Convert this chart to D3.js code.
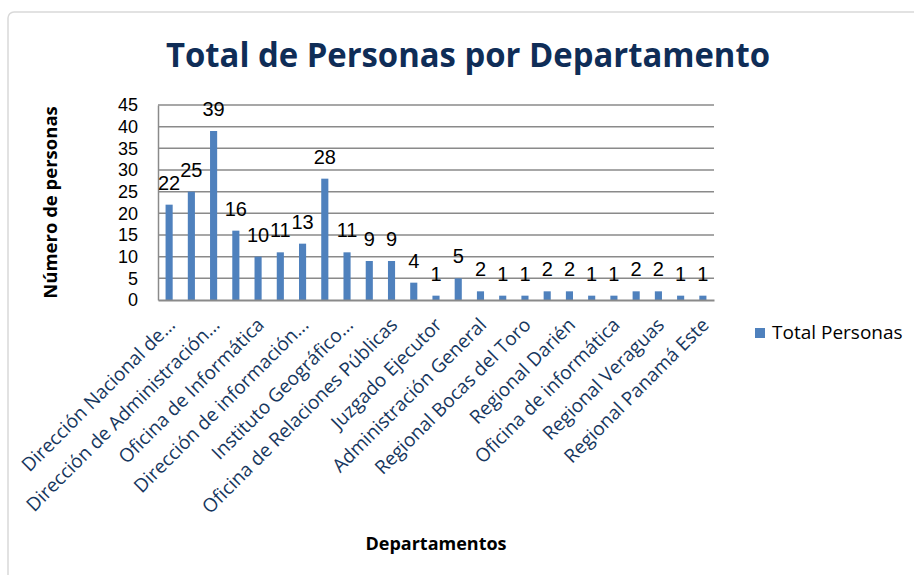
<!doctype html>
<html>
<head>
    <meta charset="utf-8">
    <title>Total de Personas por Departamento</title>
    <script src="https://d3js.org/d3.v7.min.js"></script>
    <style>
        body { margin: 0; background: #fff; }
        svg { display: block; }
    </style>
</head>
<body>
<div id="chart"></div>
<script>
    // categories (only every other one is shown as a tick label, like the original)
    var departamentos = [
        "Dirección Nacional de...", "Dirección de Finanzas",
        "Dirección de Administración...", "Dirección de Recursos Humanos",
        "Oficina de Informática", "Asesoría Legal",
        "Dirección de información...", "Secretaría General",
        "Instituto Geográfico...", "Auditoría Interna",
        "Oficina de Relaciones Públicas", "Dirección de Planificación",
        "Juzgado Ejecutor", "Regional Coclé",
        "Administración General", "Regional Chiriquí",
        "Regional Bocas del Toro", "Regional Colón",
        "Regional Darién", "Regional Herrera",
        "Oficina de informática", "Regional Los Santos",
        "Regional Veraguas", "Regional Panamá Oeste",
        "Regional Panamá Este"
    ];
    var totalPersonas = [22, 25, 39, 16, 10, 11, 13, 28, 11, 9, 9, 4, 1, 5, 2, 1, 1, 2, 2, 1, 1, 2, 2, 1, 1];
    var yTicks = [0, 5, 10, 15, 20, 25, 30, 35, 40, 45];

    var W = 914, H = 575;
    var margin = {top: 105, right: 200, bottom: 275, left: 158},
        width = W - margin.left - margin.right,
        height = H - margin.top - margin.bottom;

    var svg = d3.select("#chart").append("svg")
        .attr("width", W)
        .attr("height", H);

    // outer chart frame
    svg.append("rect")
        .attr("x", 8).attr("y", 12)
        .attr("width", W + 20).attr("height", H + 20)
        .attr("rx", 6)
        .attr("fill", "none")
        .attr("stroke", "#d9d9d9")
        .attr("stroke-width", 1.5);

    // title
    svg.append("text")
        .attr("x", 468).attr("y", 67)
        .attr("text-anchor", "middle")
        .style("font-family", "'Open Sans', sans-serif")
        .style("font-weight", "bold")
        .style("font-size", "34px")
        .attr("fill", "#0f2d57")
        .attr("textLength", 604)
        .attr("lengthAdjust", "spacingAndGlyphs")
        .text("Total de Personas por Departamento");

    var g = svg.append("g")
        .attr("transform", "translate(" + margin.left + "," + margin.top + ")");

    var x = d3.scaleBand()
        .domain(d3.range(departamentos.length))
        .range([0, width])
        .paddingInner(0.68)
        .paddingOuter(0.34);

    var y = d3.scaleLinear()
        .domain([0, 45])
        .range([height, 0]);

    // gridlines
    g.append("g")
        .selectAll("line")
        .data(yTicks.slice(1))
        .enter().append("line")
        .attr("x1", 0).attr("x2", width)
        .attr("y1", function (d) { return y(d); })
        .attr("y2", function (d) { return y(d); })
        .attr("stroke", "#8a8a8a")
        .attr("stroke-width", 1.5);

    // y axis
    var yAxis = g.append("g")
        .call(d3.axisLeft(y).tickValues(yTicks).tickSize(0).tickPadding(20));
    yAxis.select(".domain").attr("stroke", "#8a8a8a").attr("stroke-width", 1.5);
    yAxis.selectAll("text")
        .style("font-family", "'Liberation Sans', Arial, sans-serif")
        .style("font-size", "18px")
        .attr("fill", "#000");

    // bars
    g.selectAll(".bar")
        .data(totalPersonas)
        .enter().append("rect")
        .attr("class", "bar")
        .attr("x", function (d, i) { return x(i); })
        .attr("y", function (d) { return y(d); })
        .attr("width", x.bandwidth())
        .attr("height", function (d) { return height - y(d); })
        .attr("fill", "#4f81bd");

    // data labels
    g.selectAll(".lbl")
        .data(totalPersonas)
        .enter().append("text")
        .attr("class", "lbl")
        .attr("x", function (d, i) { return x(i) + x.bandwidth() / 2; })
        .attr("y", function (d) { return y(d) - 15; })
        .attr("text-anchor", "middle")
        .style("font-family", "'Liberation Sans', Arial, sans-serif")
        .style("font-size", "20px")
        .attr("fill", "#000")
        .text(function (d) { return d; });

    // x axis
    var xAxis = g.append("g")
        .attr("transform", "translate(0," + height + ")")
        .call(d3.axisBottom(x)
            .tickValues(d3.range(0, departamentos.length, 2))
            .tickFormat(function (i) { return departamentos[i]; })
            .tickSize(0));
    xAxis.select(".domain").attr("stroke", "#8a8a8a").attr("stroke-width", 2);
    xAxis.selectAll("text")
        .style("font-family", "'Open Sans', sans-serif")
        .style("font-size", "19px")
        .attr("fill", "#17375e")
        .attr("text-anchor", "end")
        .attr("dy", "0")
        .attr("transform", "translate(5,24) rotate(-45)");

    // axis titles
    svg.append("text")
        .attr("transform", "translate(57," + (margin.top + height / 2) + ") rotate(-90)")
        .attr("text-anchor", "middle")
        .style("font-family", "'Open Sans', sans-serif")
        .style("font-weight", "bold")
        .style("font-size", "18.5px")
        .attr("fill", "#000")
        .text("Número de personas");

    svg.append("text")
        .attr("x", 436).attr("y", 550)
        .attr("text-anchor", "middle")
        .style("font-family", "'Open Sans', sans-serif")
        .style("font-weight", "bold")
        .style("font-size", "18px")
        .attr("fill", "#000")
        .text("Departamentos");

    // legend
    var legend = svg.append("g").attr("transform", "translate(755,328)");
    legend.append("rect")
        .attr("width", 10).attr("height", 10)
        .attr("fill", "#4f81bd");
    legend.append("text")
        .attr("x", 17).attr("y", 11)
        .style("font-family", "'Open Sans', sans-serif")
        .style("font-size", "19px")
        .attr("fill", "#000")
        .text("Total Personas");
</script>
</body>
</html>
